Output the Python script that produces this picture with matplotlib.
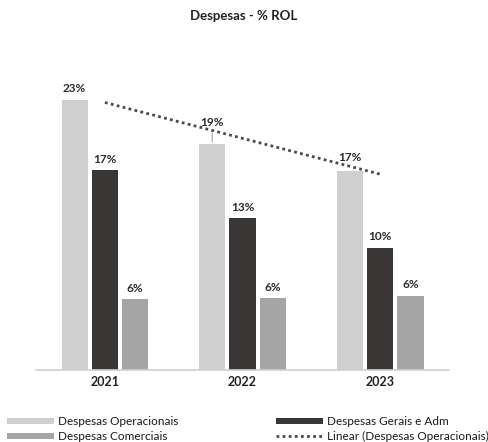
import numpy as np
import matplotlib.pyplot as plt

plt.rcParams['font.family'] = ['Lato', 'DejaVu Sans']

# Dados
anos = ['2021', '2022', '2023']
operacionais = [23.0, 19.2, 16.9]
gerais_adm = [17.0, 12.9, 10.4]
comerciais = [6.0, 6.1, 6.3]
rotulos_op = ['23%', '19%', '17%']
rotulos_ga = ['17%', '13%', '10%']
rotulos_com = ['6%', '6%', '6%']

cor_op = '#cfcfcf'
cor_ga = '#3a3636'
cor_com = '#a5a5a5'

fig = plt.figure(figsize=(4.88, 4.42), dpi=100)
ax = fig.add_axes([0.074, 0.163, 0.846, 0.665])

x = np.arange(len(anos))
w = 0.19
passo = 0.22

b1 = ax.bar(x - passo, operacionais, w, color=cor_op, label='Despesas Operacionais')
b2 = ax.bar(x, gerais_adm, w, color=cor_ga, label='Despesas Gerais e Adm')
b3 = ax.bar(x + passo, comerciais, w, color=cor_com, label='Despesas Comerciais')

# Linha de tendencia (linear)
coef = np.polyfit(x, operacionais, 1)
linha, = ax.plot(x, np.polyval(coef, x), linestyle=(0, (1, 1.2)), color='#4a4a4a',
                 linewidth=2.0, label='Linear (Despesas Operacionais)')

# deslocamento vertical dos rotulos (pt)
desloc_op = [4, 12, 6]
for barras, rot, desl in [(b1, rotulos_op, desloc_op), (b2, rotulos_ga, [4] * 3),
                          (b3, rotulos_com, [4] * 3)]:
    for b, r, dy in zip(barras, rot, desl):
        ax.annotate(r, (b.get_x() + b.get_width() / 2, b.get_height()),
                    xytext=(0, dy), textcoords='offset points',
                    ha='center', va='bottom', fontsize=8.5, fontweight='bold',
                    color='#2b2b2b')

# linha guia do rotulo de 2022
bx = b1[1].get_x() + b1[1].get_width() / 2
ax.annotate('', (bx, operacionais[1]), xytext=(0, 10), textcoords='offset points',
            arrowprops=dict(arrowstyle='-', color='#a0a0a0', lw=0.8))

ax.set_xlim(-0.5, 2.5)
ax.set_ylim(0, 25)
ax.set_xticks(x)
ax.set_xticklabels(anos, fontsize=9, fontweight='bold', color='#222222')
ax.tick_params(axis='x', length=0, pad=4)
ax.set_yticks([])
for s in ['top', 'right', 'left']:
    ax.spines[s].set_visible(False)
ax.spines['bottom'].set_color('#d0d0d0')
ax.spines['bottom'].set_linewidth(1.2)

fig.suptitle('Despesas - % ROL', y=0.978, fontsize=9.5, fontweight='bold', color='#222222')

estilo = dict(frameon=False, fontsize=8.5, handlelength=4.0, handleheight=0.45,
              labelspacing=0.3, handletextpad=0.3, borderaxespad=0, borderpad=0)
leg1 = fig.legend([b1, b3], ['Despesas Operacionais', 'Despesas Comerciais'],
                  loc='upper left', bbox_to_anchor=(0.014, 0.058), **estilo)
leg2 = fig.legend([b2, linha], ['Despesas Gerais e Adm', 'Linear (Despesas Operacionais)'],
                  loc='upper left', bbox_to_anchor=(0.566, 0.058), **estilo)
for t in leg1.get_texts() + leg2.get_texts():
    t.set_color('#1a1a1a')

fig.savefig('out.png', dpi=100)
